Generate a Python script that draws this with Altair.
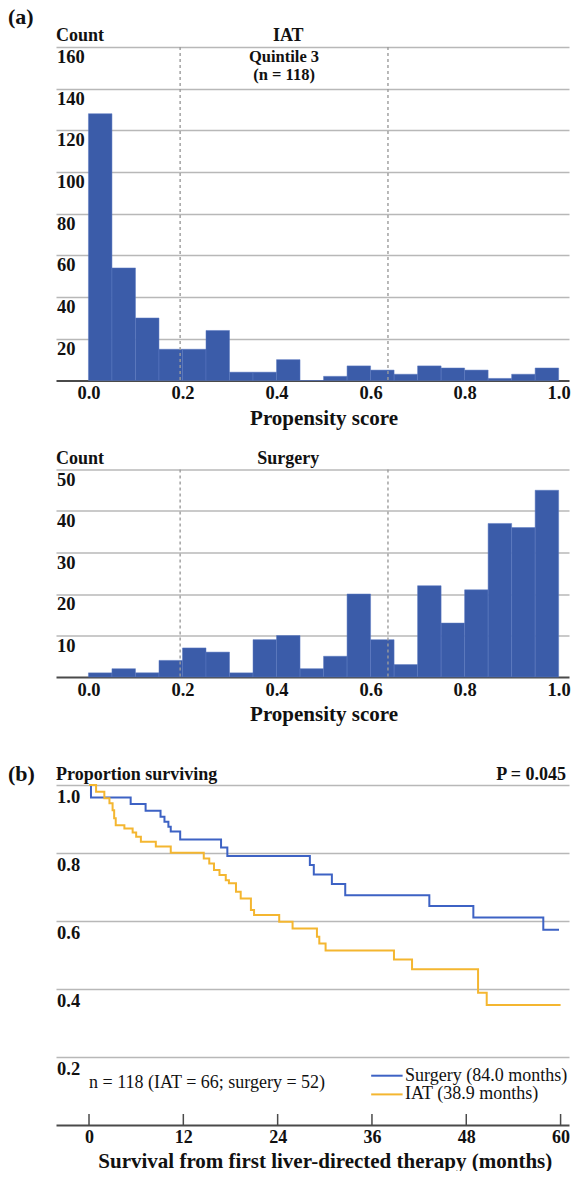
import altair as alt
import pandas as pd

# ---------------- data ----------------
bin_left = [0.00, 0.05, 0.10, 0.15, 0.20, 0.25, 0.30, 0.35, 0.40, 0.45,
            0.50, 0.55, 0.60, 0.65, 0.70, 0.75, 0.80, 0.85, 0.90, 0.95]
bin_right = [0.05, 0.10, 0.15, 0.20, 0.25, 0.30, 0.35, 0.40, 0.45, 0.50,
             0.55, 0.60, 0.65, 0.70, 0.75, 0.80, 0.85, 0.90, 0.95, 1.00]
iat_counts = [128, 54, 30, 15, 15, 24, 4, 4, 10, 0,
              2, 7, 5, 3, 7, 6, 5, 1, 3, 6]
surgery_counts = [1, 2, 1, 4, 7, 6, 1, 9, 10, 2,
                  5, 20, 9, 3, 22, 13, 21, 37, 36, 45]
quintile_cuts = [0.195, 0.637]
ps_ticks = [0.0, 0.2, 0.4, 0.6, 0.8, 1.0]
iat_yticks = [20, 40, 60, 80, 100, 120, 140, 160]
surg_yticks = [10, 20, 30, 40, 50]

surg_t = [0, 0.25, 5.3, 7.2, 9.1, 9.6, 10.1, 10.4, 11.6, 16.8, 17.6,
          28.1, 28.6, 30.9, 32.6, 43.3, 48.9, 57.8, 59.8]
surg_s = [1.0, 0.963, 0.944, 0.924, 0.907, 0.892, 0.877, 0.863, 0.840, 0.816, 0.791,
          0.765, 0.737, 0.709, 0.676, 0.644, 0.610, 0.574, 0.574]
iat_t = [0, 0.9, 1.95, 2.6, 3.0, 3.2, 3.4, 4.5, 5.55, 6.0, 6.6, 8.5, 10.4,
         14.6, 15.3, 15.9, 16.6, 17.4, 17.8, 18.7, 19.3, 20.6, 21.0, 24.2,
         25.9, 29.0, 29.3, 30.1, 38.8, 41.1, 49.5, 50.6, 60.0]
iat_s = [1.0, 0.980, 0.961, 0.946, 0.926, 0.902, 0.882, 0.872, 0.860, 0.848, 0.833, 0.819, 0.801,
         0.784, 0.769, 0.750, 0.735, 0.720, 0.711, 0.686, 0.666, 0.632, 0.618, 0.598,
         0.578, 0.554, 0.534, 0.513, 0.487, 0.458, 0.389, 0.353, 0.353]
km_yticks = [0.2, 0.4, 0.6, 0.8, 1.0]
km_xticks = [0, 12, 24, 36, 48, 60]
legend_labels = ["Surgery (84.0 months)", "IAT (38.9 months)"]
group_names = ["Surgery", "IAT"]

# ---------------- style ----------------
FONT = "Liberation Serif"
TXT = "#111111"
BAR = "#3b5ca9"
BLUE = "#3d62c4"
GOLD = "#f4b630"
GRID = "#b8b8b8"
AXIS = "#4a4a4a"
W = 513
H1, H2, H3 = 333.5, 207.5, 359
SPACING = 88.5
X_DOM = [-0.069, 1.022]
KM_DOM = [-4.2, 61.07]
KM_TOP = 1.0559


def pos_x(dom, value):
    return (value - dom[0]) / (dom[1] - dom[0]) * W


def x_axis(values, fmt, title, dom, center, pad, title_y, lab_size):
    return alt.Axis(
        values=values, format=fmt, grid=False, ticks=False,
        domainColor=AXIS, domainWidth=2,
        labelFont=FONT, labelFontSize=lab_size, labelFontWeight="bold", labelColor=TXT,
        labelBaseline="alphabetic", labelPadding=pad, labelFlush=False, labelOverlap=False,
        title=title, titleFont=FONT, titleFontSize=21, titleFontWeight="bold",
        titleColor=TXT, titleBaseline="alphabetic", titleX=pos_x(dom, center), titleY=title_y)


def y_axis(values):
    return alt.Axis(values=values, grid=True, gridColor=GRID, gridWidth=1.5,
                    labels=False, ticks=False, domain=False, title=None)


def hist_panel(counts, ymax, yticks, title, height, extras):
    df = pd.DataFrame({"lo": bin_left, "hi": bin_right, "n": counts,
                       "zero": [0] * len(counts)})
    xs = alt.Scale(domain=X_DOM, nice=False, zero=False)
    ys = alt.Scale(domain=[0, ymax], nice=False)
    xa = x_axis(ps_ticks, ".1f", "Propensity score", X_DOM, 0.5, 18, 43.5, 18.5)
    ya = y_axis(yticks)
    bars = alt.Chart(df).mark_rect(color=BAR, stroke="#5b79c0", strokeWidth=0.5).encode(
        x=alt.X("lo:Q", scale=xs, axis=xa),
        x2="hi:Q",
        y=alt.Y("n:Q", scale=ys, axis=ya),
        y2="zero:Q",
    )
    qdf = pd.DataFrame({"q": quintile_cuts})
    dashes = alt.Chart(qdf).mark_rule(color="#9c9c9c", strokeDash=[3, 3], strokeWidth=1.4).encode(
        x=alt.X("q:Q", scale=xs, axis=xa))
    ldf = pd.DataFrame({"v": yticks, "lab": [str(v) for v in yticks]})
    ylabels = alt.Chart(ldf).mark_text(
        align="left", baseline="alphabetic", dy=16, font=FONT, fontSize=18.5,
        fontWeight="bold", color=TXT).encode(
        x=alt.value(1), y=alt.Y("v:Q", scale=ys, axis=ya), text="lab:N")
    count_lab = alt.Chart(pd.DataFrame({"t": ["Count"]})).mark_text(
        align="left", baseline="alphabetic", font=FONT, fontSize=18, fontWeight="bold",
        color=TXT).encode(x=alt.value(0), y=alt.value(-6), text="t:N")
    head = alt.Chart(pd.DataFrame({"t": [title], "x": [0.425]})).mark_text(
        align="center", baseline="alphabetic", font=FONT, fontSize=18, fontWeight="bold",
        color=TXT).encode(x=alt.X("x:Q", scale=xs, axis=xa), y=alt.value(-6), text="t:N")
    layers = [bars, dashes, ylabels, count_lab, head]
    for e in extras:
        layers.append(e(xs, ys, xa, ya))
    return alt.layer(*layers).properties(width=W, height=height)


def quintile_text(xs, ys, xa, ya):
    df = pd.DataFrame({"t": ["Quintile 3", "(n = 118)"], "x": [0.416, 0.416], "y": [152.8, 144.4]})
    return alt.Chart(df).mark_text(align="center", baseline="alphabetic", font=FONT,
                                   fontSize=16.5, fontWeight="bold", color=TXT).encode(
        x=alt.X("x:Q", scale=xs, axis=xa), y=alt.Y("y:Q", scale=ys, axis=ya), text="t:N")


def panel_a_label(xs, ys, xa, ya):
    return alt.Chart(pd.DataFrame({"t": ["(a)"]})).mark_text(
        align="left", baseline="alphabetic", font=FONT, fontSize=22, fontWeight="bold",
        color=TXT).encode(x=alt.value(-48), y=alt.value(-23), text="t:N")


def spacer(xs, ys, xa, ya):
    return alt.Chart(pd.DataFrame({"t": ["s"]})).mark_rule(color="white", strokeWidth=1).encode(
        x=alt.value(-55), x2=alt.value(-50), y=alt.value(-46))


p1 = hist_panel(iat_counts, 160, iat_yticks, "IAT", H1, [quintile_text, panel_a_label, spacer])
p2 = hist_panel(surgery_counts, 50, surg_yticks, "Surgery", H2, [])

# ---------------- Kaplan-Meier panel ----------------
kxs = alt.Scale(domain=KM_DOM, nice=False, zero=False)
kys = alt.Scale(domain=[0, KM_TOP], nice=False)
kxa = x_axis(km_xticks, "d", "Survival from first liver-directed therapy (months)",
             KM_DOM, 30, 17, 42, 18)
kya = y_axis(km_yticks)
kdf = pd.DataFrame({"t": surg_t + iat_t, "s": surg_s + iat_s,
                    "g": ["Surgery"] * len(surg_t) + ["IAT"] * len(iat_t)})
color = alt.Color("g:N", scale=alt.Scale(domain=group_names, range=[BLUE, GOLD]), legend=None)
lines = alt.Chart(kdf).mark_line(interpolate="step-after", strokeWidth=2).encode(
    x=alt.X("t:Q", scale=kxs, axis=kxa),
    y=alt.Y("s:Q", scale=kys, axis=kya),
    color=color,
    order=alt.Order("t:Q"),
)
tick_df = pd.DataFrame({"t": km_xticks})
ticks = alt.Chart(tick_df).mark_rule(color=AXIS, strokeWidth=1.5).encode(
    x=alt.X("t:Q", scale=kxs, axis=kxa), y=alt.value(H3 - 11), y2=alt.value(H3))
kl = pd.DataFrame({"v": km_yticks, "lab": ["%.1f" % v for v in km_yticks]})
km_ylabels = alt.Chart(kl).mark_text(
    align="left", baseline="alphabetic", dy=18, font=FONT, fontSize=18.5,
    fontWeight="bold", color=TXT).encode(
    x=alt.value(1), y=alt.Y("v:Q", scale=kys, axis=kya), text="lab:N")
prop_lab = alt.Chart(pd.DataFrame({"t": ["Proportion surviving"]})).mark_text(
    align="left", baseline="alphabetic", font=FONT, fontSize=18, fontWeight="bold",
    color=TXT).encode(x=alt.value(0), y=alt.value(14), text="t:N")
p_lab = alt.Chart(pd.DataFrame({"t": ["P = 0.045"]})).mark_text(
    align="right", baseline="alphabetic", font=FONT, fontSize=18, fontWeight="bold",
    color=TXT).encode(x=alt.value(W - 3), y=alt.value(14), text="t:N")
b_lab = alt.Chart(pd.DataFrame({"t": ["(b)"]})).mark_text(
    align="left", baseline="alphabetic", font=FONT, fontSize=22, fontWeight="bold",
    color=TXT).encode(x=alt.value(-48), y=alt.value(15), text="t:N")
n_lab = alt.Chart(pd.DataFrame({"t": ["n = 118 (IAT = 66; surgery = 52)"], "x": [0], "y": [0.125]})).mark_text(
    align="left", baseline="middle", font=FONT, fontSize=18, color=TXT).encode(
    x=alt.X("x:Q", scale=kxs, axis=kxa), y=alt.Y("y:Q", scale=kys, axis=kya), text="t:N")
leg_df = pd.DataFrame({"g": group_names, "lab": legend_labels,
                       "x0": [35.9, 35.9], "x1": [39.9, 39.9], "xt": [40.2, 40.2],
                       "y": [0.145, 0.09]})
leg_lines = alt.Chart(leg_df).mark_rule(strokeWidth=2).encode(
    x=alt.X("x0:Q", scale=kxs, axis=kxa), x2="x1:Q",
    y=alt.Y("y:Q", scale=kys, axis=kya), color=color)
leg_text = alt.Chart(leg_df).mark_text(
    align="left", baseline="middle", font=FONT, fontSize=18, color=TXT).encode(
    x=alt.X("xt:Q", scale=kxs, axis=kxa), y=alt.Y("y:Q", scale=kys, axis=kya), text="lab:N")

p3 = alt.layer(lines, ticks, km_ylabels, prop_lab, p_lab, b_lab, n_lab, leg_lines, leg_text).properties(
    width=W, height=H3)

chart = alt.vconcat(p1, p2, p3, spacing=SPACING, bounds="flush").properties(
    padding={"left": 0, "top": 0, "right": 0, "bottom": 0}
).configure(background="white").configure_view(stroke=None)

chart.save("out.html", embed_options={"renderer": "svg", "actions": False})
